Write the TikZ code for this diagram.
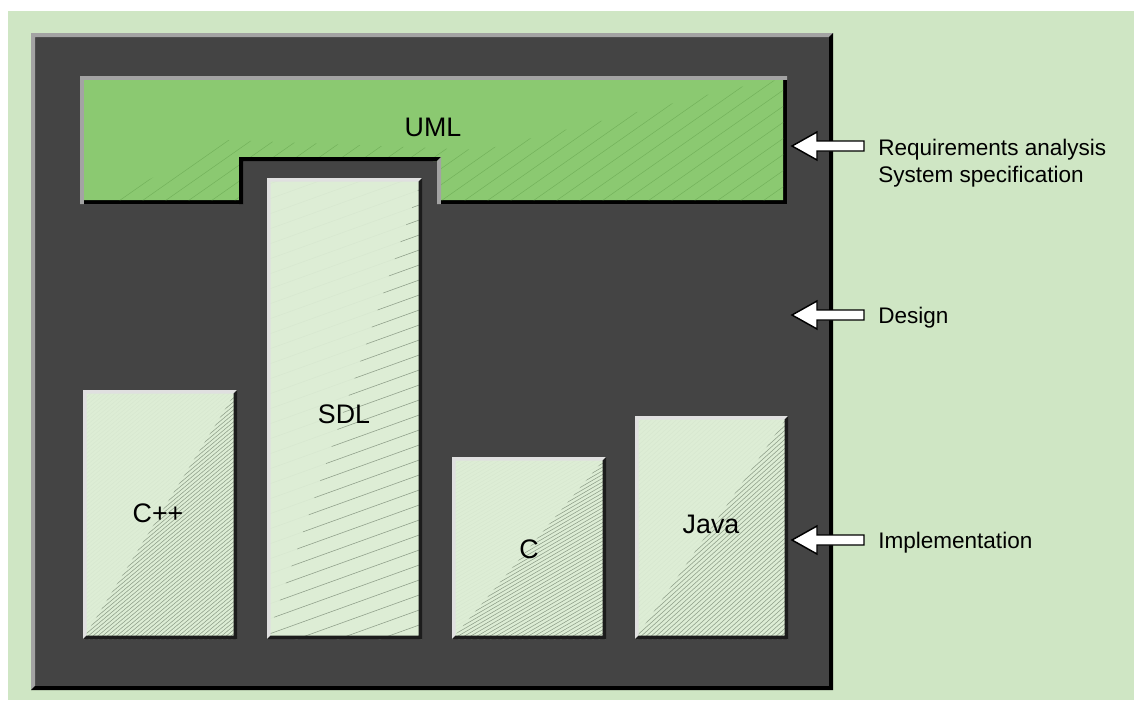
\documentclass[tikz,border=0pt]{standalone}
\usepackage{fontspec}
\setmainfont{Liberation Sans}
\definecolor{bggreen}{HTML}{CFE6C4}
\definecolor{panelgray}{HTML}{444444}
\definecolor{umlgreen}{HTML}{8BC971}
\definecolor{umlhatch}{HTML}{74B35C}
\definecolor{boxfill}{HTML}{DDEDD5}
\definecolor{boxhatch}{HTML}{8E9E89}
\definecolor{rimlight}{HTML}{A3A3A3}
\definecolor{rimpale}{HTML}{E0E0E0}
\definecolor{rimdark}{HTML}{1C1C1C}

% bevelled rectangle rim: x1,y1,x2,y2,width,light colour,dark colour
\newcommand\bevelrim[7]{%
  \fill[#6] (#1,#4) -- (#1,#2) -- (#3,#2) -- ({#3-#5},{#2+#5}) -- ({#1+#5},{#2+#5}) -- ({#1+#5},{#4-#5}) -- cycle;
  \fill[#7] (#3,#2) -- (#3,#4) -- (#1,#4) -- ({#1+#5},{#4-#5}) -- ({#3-#5},{#4-#5}) -- ({#3-#5},{#2+#5}) -- cycle;
}
% parallel hatching over a box, clipped to a given path:
% x1,y1,x2,y2,slope,spacing,style,clip path
\newcommand\hatcharea[8]{%
  \begin{scope}
    \clip #8;
    \pgfmathsetmacro\hw{#3-#1}
    \pgfmathsetmacro\hdmin{-#5*\hw}
    \pgfmathtruncatemacro\hn{((#4-#2)-\hdmin)/#6+1}
    \foreach \i in {0,...,\hn}{
      \pgfmathsetmacro\hy{#4-(\hdmin+\i*#6)}
      \draw[#7] (#1,\hy) -- ++(\hw,{-#5*\hw});
    }
  \end{scope}}
% a pale language box with its hatching and rim
\newcommand\langbox[7]{% name,x1,y1,x2,y2,slope,spacing
  \fill[boxfill] (#2,#3) rectangle (#4,#5);
  \hatcharea{#2}{#3}{#4}{#5}{#6}{#7}{hatchfaint}{(#2,#3) rectangle (#4,#5)}
  \hatcharea{#2}{#3}{#4}{#5}{#6}{#7}{hatchline}{(#2,#5) -- (#4,#3) -- (#4,#5) -- cycle}
  \coordinate (#1) at ({(#2+#4)/2},{(#3+#5)/2});
  \bevelrim{#2}{#3}{#4}{#5}{3.5}{rimpale}{rimdark}
}

\tikzset{
  hatchline/.style={draw=boxhatch, line width=0.4pt},
  hatchfaint/.style={draw=boxhatch, line width=0.4pt, draw opacity=0.07},
  umlline/.style={draw=umlhatch, line width=0.4pt},
  umlpath/.style={insert path={(80,76) -- (787,76) -- (787,204) -- (437,204) -- (437,161) -- (243,161) -- (243,204) -- (80,204) -- cycle}},
  inlabel/.style={font=\fontsize{20.1}{24}\selectfont, text=black, inner sep=0pt, anchor=base},
  sidelabel/.style={font=\fontsize{16.9}{20.25}\selectfont, text=black, inner sep=0pt, anchor=base west, align=left},
  pointer/.style={draw=black, fill=white, line width=1.1pt, line join=miter},
}

\begin{document}
\begin{tikzpicture}[x=0.75pt, y=-0.75pt]
  \useasboundingbox (0,0) rectangle (1134,700);
  \fill[white] (0,0) rectangle (1134,700);
  \fill[bggreen] (8,11) rectangle (1134,700);

  % dark panel
  \fill[panelgray] (31,33) rectangle (833,690);
  \bevelrim{31}{33}{833}{690}{4}{rimlight}{black}

  % UML band with its notch
  \fill[fill=rimlight, umlpath];
  \begin{scope}
    \clip[umlpath];
    \clip[shift={(4,4)}, umlpath];
    \fill[black] (0,0) rectangle (1134,700);
    \clip[shift={(-4,-4)}, umlpath];
    \fill[umlgreen] (0,0) rectangle (1134,700);
    \clip (80,204) -- (100,204) -- (228,140) -- (483,150) -- (735,88) -- (787,78) -- (787,204) -- cycle;
    \foreach \d in {0,23,...,700}{
      \draw[umlline] ({60+\d},210) -- ++(300,-210);
    }
  \end{scope}
  % mitred rims round the notch
  \fill[black] (239,204) -- (239,157) -- (441,157) -- (437,161) -- (243,161) -- (243,204) -- cycle;
  \fill[rimlight] (437,204) -- (437,161) -- (441,157) -- (441,200) -- cycle;

  % language boxes
  \langbox{cpp}{83}{390}{237}{639}{0.84}{4}
  \langbox{sdl}{267}{178}{422}{639}{0.36}{15}
  \langbox{clang}{452}{457}{606}{639}{0.58}{3.7}
  \langbox{java}{635}{416}{788}{639}{0.9}{4.5}

  % box labels
  \node[inlabel] (umllabel) at (433,136) {UML};
  \node[inlabel] (sdllabel) at (344,423) {SDL};
  \node[inlabel] (cpplabel) at (158,522) {C++};
  \node[inlabel] (clabel) at (529,558) {C};
  \node[inlabel] (javalabel) at (711,533) {Java};

  % phase labels
  \node[sidelabel] (req) at (878,155) {Requirements analysis};
  \node[sidelabel] (spec) at (878,182) {System specification};
  \node[sidelabel] (design) at (878,323) {Design};
  \node[sidelabel] (impl) at (878,548) {Implementation};

  % block arrows pointing at the panel
  \coordinate (tipreq) at (792,146);
  \coordinate (tipdesign) at (792,315);
  \coordinate (tipimpl) at (792,540);
  \foreach \t in {tipreq,tipdesign,tipimpl}{
    \draw[pointer] (\t) -- ++(25,-14) -- ++(0,9) -- ++(47,0) -- ++(0,10) -- ++(-47,0) -- ++(0,9) -- cycle;
  }
\end{tikzpicture}
\end{document}
